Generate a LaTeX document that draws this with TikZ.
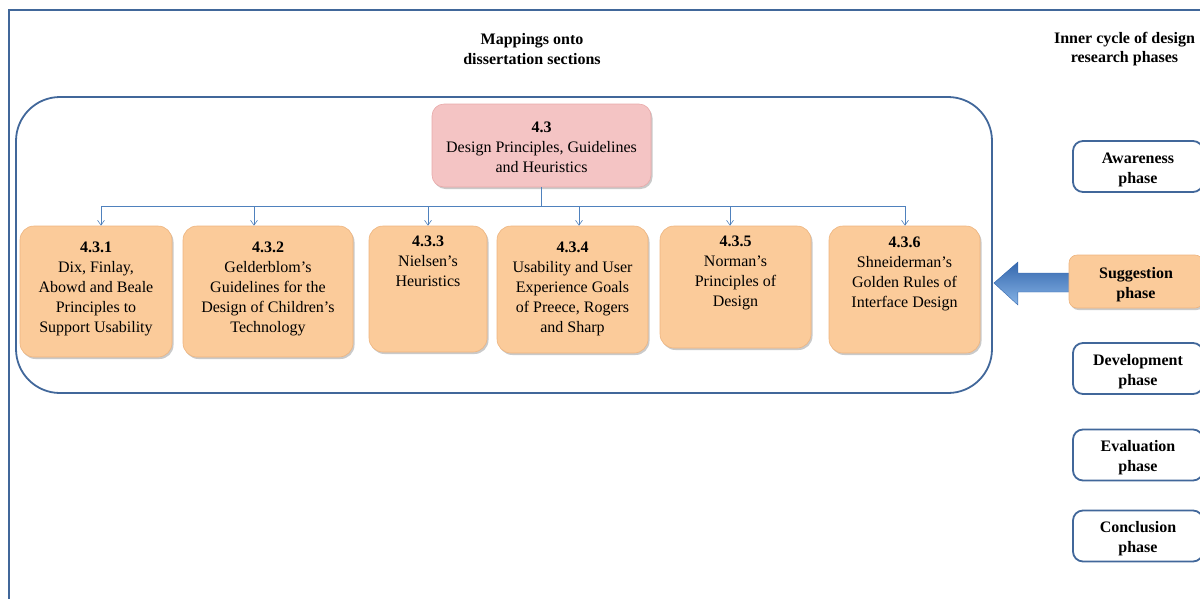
\documentclass[tikz,border=0pt]{standalone}
\usepackage{fontspec}
\setmainfont{Liberation Serif}
\usetikzlibrary{shadows,arrows.meta,calc}
\definecolor{frameblue}{HTML}{41679A}
\definecolor{pinkfill}{HTML}{F4C4C4}
\definecolor{pinkedge}{HTML}{E8A9A9}
\definecolor{orangefill}{HTML}{FBCB9A}
\definecolor{orangeedge}{HTML}{EDB47F}
\definecolor{lineblue}{HTML}{4F81BD}
\definecolor{arrowtop}{HTML}{3467AD}
\definecolor{arrowmid}{HTML}{4F8AD2}
\definecolor{arrowbot}{HTML}{86B3E6}
\tikzset{
  txt/.style={font=\fontsize{16}{20}\selectfont, align=center, inner sep=0pt},
  head/.style={font=\fontsize{16}{19.5}\selectfont\bfseries, align=center, inner sep=0pt},
  frameline/.style={draw=frameblue, line width=1.8pt},
  secbox/.style={draw=orangeedge, fill=orangefill, rounded corners=14pt, line width=0.6pt,
     drop shadow={shadow xshift=1.5pt, shadow yshift=-2pt, opacity=0.35, fill=black!60}},
  topbox/.style={draw=pinkedge, fill=pinkfill, rounded corners=12pt, line width=0.6pt,
     drop shadow={shadow xshift=1.5pt, shadow yshift=-2pt, opacity=0.35, fill=black!60}},
  phasebox/.style={frameline, rounded corners=10pt, minimum width=130pt, minimum height=51pt, inner sep=0pt},
  phasetext/.style={font=\fontsize{16}{20}\selectfont\bfseries, align=center, inner sep=0pt, yshift=-3pt},
  conn/.style={draw=lineblue, line width=0.7pt},
  connarrow/.style={conn, -{Straight Barb[length=5pt,width=7pt,line width=0.6pt]}}
}
\begin{document}
\begin{tikzpicture}[x=1pt,y=-1pt]
\useasboundingbox (0,0) rectangle (1200,598);
% outer frame
\coordinate (fbl) at (9,610);
\coordinate (ftl) at (9,10);
\coordinate (ftr) at (1210,10);
\draw[frameline] (fbl) -- (ftl) -- (ftr);

% headings
\node[head] (hmap) at (532,49) {Mappings onto\\dissertation sections};
\node[head] (hinner) at (1124.5,49) {Inner cycle of design\\research phases};

% sections container
\node[frameline, rounded corners=44pt, minimum width=976pt, minimum height=296pt, inner sep=0pt] (sections) at (504,245) {};

% top node
\node[topbox, minimum width=219pt, minimum height=83pt, inner sep=0pt] (top) at (541.5,145.5) {};
\node[txt, anchor=north] (ttop) at (541.5,122) {\textbf{4.3}\\Design Principles, Guidelines\\and Heuristics};

% sub boxes
\node[secbox, minimum width=152pt, minimum height=131pt, inner sep=0pt] (b1) at (96,291.5) {};
\node[secbox, minimum width=170pt, minimum height=131pt, inner sep=0pt] (b2) at (268,291.5) {};
\node[secbox, minimum width=118pt, minimum height=126pt, inner sep=0pt] (b3) at (428,289) {};
\node[secbox, minimum width=151pt, minimum height=127pt, inner sep=0pt] (b4) at (572.5,289.5) {};
\node[secbox, minimum width=151pt, minimum height=122pt, inner sep=0pt] (b5) at (735.5,287) {};
\node[secbox, minimum width=151pt, minimum height=127pt, inner sep=0pt] (b6) at (904.5,289.5) {};

\node[txt, anchor=north] (t1) at (96,241.5) {\textbf{4.3.1}\\Dix, Finlay,\\Abowd and Beale\\Principles to\\Support Usability};
\node[txt, anchor=north] (t2) at (268,241.5) {\textbf{4.3.2}\\Gelderblom's\\Guidelines for the\\Design of Children's\\Technology};
\node[txt, anchor=north] (t3) at (428,236) {\textbf{4.3.3}\\Nielsen's\\Heuristics};
\node[txt, anchor=north] (t4) at (572.5,241.5) {\textbf{4.3.4}\\Usability and User\\Experience Goals\\of Preece, Rogers\\and Sharp};
\node[txt, anchor=north] (t5) at (735.5,236) {\textbf{4.3.5}\\Norman's\\Principles of\\Design};
\node[txt, anchor=north] (t6) at (904.5,237) {\textbf{4.3.6}\\Shneiderman's\\Golden Rules of\\Interface Design};

% connectors
\draw[conn] (top.south) -- ++(0,19) coordinate (hub);
\draw[conn] (hub -| 101,0) -- (hub -| 905,0);
\draw[connarrow] (hub -| 101,0) -- (b1.north -| 101,0);
\draw[connarrow] (hub -| 254,0) -- (b2.north -| 254,0);
\draw[connarrow] (hub -| 428,0) -- (b3.north -| 428,0);
\draw[connarrow] (hub -| 579,0) -- (b4.north -| 579,0);
\draw[connarrow] (hub -| 730,0) -- (b5.north -| 730,0);
\draw[connarrow] (hub -| 905,0) -- (b6.north -| 905,0);

% phase boxes
\node[phasebox, label={[phasetext]center:{Awareness\\phase}}] (aw) at (1138,166.5) {};
\node[phasebox, label={[phasetext]center:{Development\\phase}}] (dev) at (1138,368.5) {};
\node[phasebox, label={[phasetext]center:{Evaluation\\phase}}] (eva) at (1138,455) {};
\node[phasebox, label={[phasetext]center:{Conclusion\\phase}}] (con) at (1138,536) {};

% big blue arrow from suggestion to sections
\coordinate (tip) at ($(sections.east |- 0,283)+(1,0)$);
\shade[top color=arrowtop, middle color=arrowmid, bottom color=arrowbot, draw=arrowtop, line width=0.4pt]
  (tip) -- ++(24,-21) -- ++(0,11) -- ++(52,0) -- ++(0,19) -- ++(-52,0) -- ++(0,13) -- cycle;

\node[secbox, rounded corners=8pt, minimum width=134pt, minimum height=53pt, inner sep=0pt,
      label={[phasetext]center:{Suggestion\\phase}}] (sug) at (1136,281.5) {};
\end{tikzpicture}
\end{document}
